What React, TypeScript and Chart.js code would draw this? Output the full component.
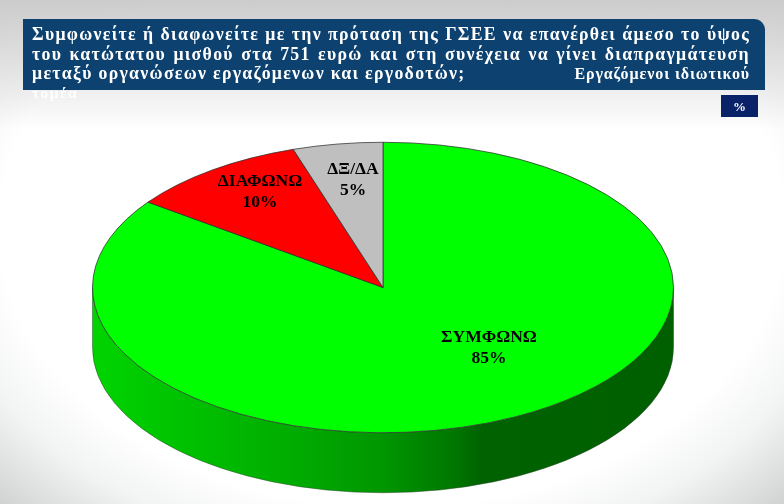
import React, { useEffect, useRef } from "react";
import { Chart, registerables } from "chart.js";

Chart.register(...registerables);

const categories = ["ΣΥΜΦΩΝΩ", "ΔΙΑΦΩΝΩ", "ΔΞ/ΔΑ"];
const values = [85, 10, 5];
const sliceColors = ["#00ff00", "#ff0000", "#bfbfbf"];
const titleLines = [
  "Συμφωνείτε ή διαφωνείτε με την πρόταση της ΓΣΕΕ να επανέρθει άμεσο το ύψος",
  "του κατώτατου μισθού στα 751 ευρώ και στη συνέχεια να γίνει διαπραγμάτευση",
];
const titleLine3Left = "μεταξύ οργανώσεων εργαζόμενων και εργοδοτών;";
const titleLine3Right = "Εργαζόμενοι ιδιωτικού";
const titleOverflow = "τομέα";
const unitBadge = "%";

const SERIF = '"Liberation Serif", serif';
const RADIUS = 290.5;
const SQUASH = 0.5;
const DEPTH = 60;
// label centre, relative to the pie centre (in px on screen)
const labelOffsets = [
  [106, 61],
  [-123, -95],
  [-30, -107],
];

const pie3d = {
  id: "pie3d",
  beforeDatasetsDraw(chart: any) {
    const arc = chart.getDatasetMeta(0).data[0];
    if (!arc) return;
    const { x, y, outerRadius: r } = arc;
    const ry = r * SQUASH;
    const ctx = chart.ctx;
    ctx.save();
    const g = ctx.createLinearGradient(x - r, 0, x + r, 0);
    g.addColorStop(0, "#00d400");
    g.addColorStop(0.36, "#00aa00");
    g.addColorStop(0.5, "#009600");
    g.addColorStop(0.62, "#007800");
    g.addColorStop(0.67, "#006200");
    g.addColorStop(1, "#006000");
    ctx.beginPath();
    ctx.ellipse(x, y, r, ry, 0, Math.PI, 0, true);
    ctx.lineTo(x + r, y + DEPTH);
    ctx.ellipse(x, y + DEPTH, r, ry, 0, 0, Math.PI, false);
    ctx.closePath();
    ctx.fillStyle = g;
    ctx.fill();
    ctx.lineWidth = 0.5;
    ctx.strokeStyle = "#2a4a2a";
    ctx.stroke();
    ctx.restore();
  },
  beforeDatasetDraw(chart: any) {
    const arc = chart.getDatasetMeta(0).data[0];
    if (!arc) return;
    const ctx = chart.ctx;
    ctx.save();
    ctx.translate(arc.x, arc.y);
    ctx.scale(1, SQUASH);
    ctx.translate(-arc.x, -arc.y);
  },
  afterDatasetDraw(chart: any) {
    chart.ctx.restore();
  },
  afterDatasetsDraw(chart: any) {
    const arc = chart.getDatasetMeta(0).data[0];
    if (!arc) return;
    const ctx = chart.ctx;
    ctx.save();
    ctx.fillStyle = "#000";
    ctx.font = `bold 17.5px ${SERIF}`;
    ctx.textAlign = "center";
    ctx.textBaseline = "middle";
    categories.forEach((c, i) => {
      const [dx, dy] = labelOffsets[i];
      ctx.fillText(c, arc.x + dx, arc.y + dy - 11);
      ctx.fillText(`${values[i]}%`, arc.x + dx, arc.y + dy + 10);
    });
    ctx.restore();
  },
};

const lineStyle: React.CSSProperties = {
  display: "block",
  height: 19.7,
  lineHeight: "19.7px",
  textAlign: "justify",
  textAlignLast: "justify",
  whiteSpace: "normal",
};

export default function App() {
  const ref = useRef<HTMLCanvasElement>(null);
  useEffect(() => {
    document.body.style.margin = "0";
    const chart = new Chart(ref.current!, {
      type: "pie",
      data: {
        labels: categories,
        datasets: [
          {
            data: values,
            backgroundColor: sliceColors,
            borderColor: "#303030",
            borderWidth: 1,
            clip: false,
          } as any,
        ],
      },
      plugins: [pie3d],
      options: {
        responsive: false,
        animation: false,
        radius: RADIUS,
        layout: { padding: { top: 71, right: 18, left: 0, bottom: 0 } },
        plugins: { legend: { display: false }, tooltip: { enabled: false }, title: { display: false } },
      } as any,
    });
    return () => chart.destroy();
  }, []);

  return (
    <div
      style={{
        position: "relative",
        width: 784,
        height: 504,
        overflow: "hidden",
        fontFamily: SERIF,
        background:
          "linear-gradient(180deg, rgba(204,204,204,1) 0px, rgba(218,218,218,0.8) 60px, rgba(255,255,255,0) 130px), radial-gradient(ellipse 560px 400px at 50% 45%, #ffffff 70%, #f2f3f3 82%, #d8d9d9 95%, #bcbcbc 108%)",
      }}
    >
      <canvas ref={ref} width={784} height={504} style={{ position: "absolute", left: 0, top: 0, width: 784, height: 504 }} />
      <div
        style={{
          position: "absolute",
          left: 23,
          top: 19,
          width: 742,
          height: 71,
          background: "#0c4170",
          borderTopRightRadius: 11,
        }}
      />
      <div
        style={{
          position: "absolute",
          left: 32,
          top: 25,
          width: 718,
          color: "#fff",
          fontWeight: "bold",
          fontSize: 17.8,
          letterSpacing: 1.3,
        }}
      >
        {titleLines.map((l) => (
          <span key={l} style={lineStyle}>{l}</span>
        ))}
        <div style={{ display: "flex", justifyContent: "space-between", height: 19.7, lineHeight: "19.7px", whiteSpace: "nowrap" }}>
          <span>{titleLine3Left}</span>
          <span style={{ fontSize: 16, letterSpacing: 0.9 }}>{titleLine3Right}</span>
        </div>
        <div style={{ height: 19, lineHeight: "17px", fontSize: 15.5, letterSpacing: 1.4 }}>{titleOverflow}</div>
      </div>
      <div
        style={{
          position: "absolute",
          left: 721,
          top: 95,
          width: 37,
          height: 22,
          background: "#0a2268",
          color: "#fff",
          fontWeight: "bold",
          fontSize: 13,
          lineHeight: "23px",
          textAlign: "center",
        }}
      >
        {unitBadge}
      </div>
    </div>
  );
}
